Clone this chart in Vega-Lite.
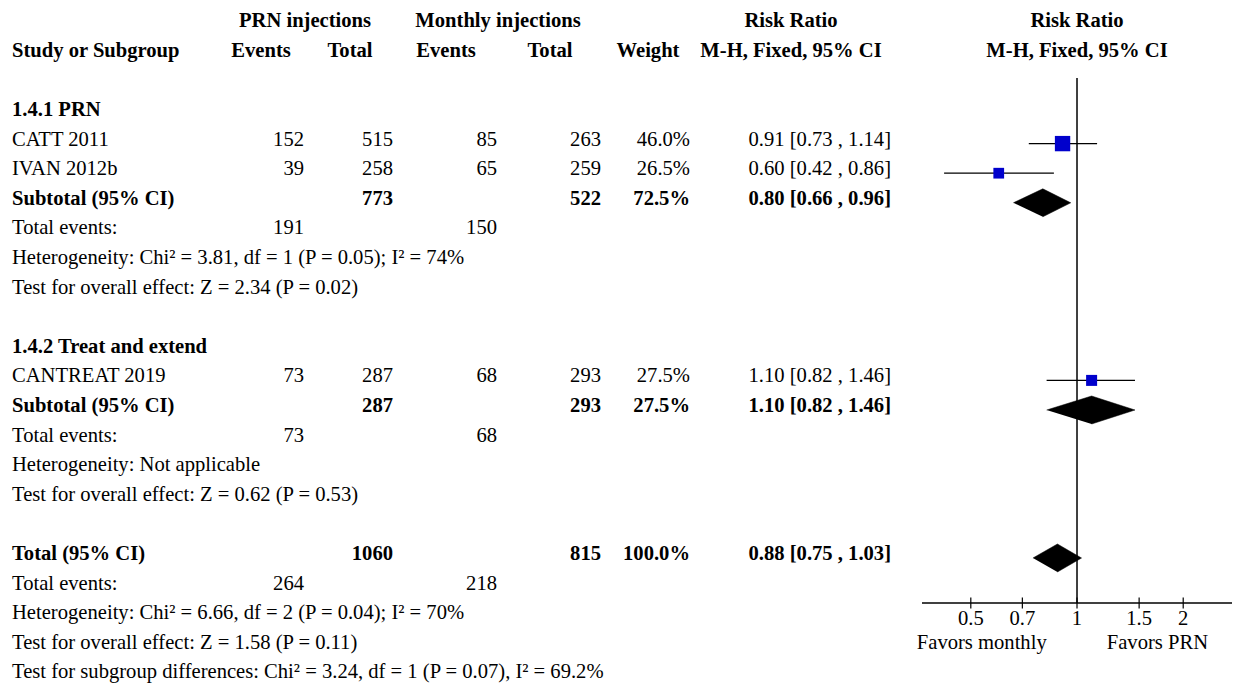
{
  "$schema": "https://vega.github.io/schema/vega-lite/v6.json",
  "width": 1259,
  "height": 684,
  "padding": 0,
  "autosize": "none",
  "background": "white",
  "config": {"view": {"stroke": null}, "font": "Liberation Serif", "text": {"font": "Liberation Serif", "fontSize": 20.6, "color": "#000"}},
  "datasets": {
    "cells": [
      {"row": -3, "col": 7, "text": "PRN injections", "kind": "head"},
      {"row": -3, "col": 10, "text": "Monthly injections", "kind": "head"},
      {"row": -3, "col": 14, "text": "Risk Ratio", "kind": "head"},
      {"row": -3, "col": 15, "text": "Risk Ratio", "kind": "head"},
      {"row": -2, "col": 0, "text": "Study or Subgroup", "kind": "head"},
      {"row": -2, "col": 8, "text": "Events", "kind": "head"},
      {"row": -2, "col": 9, "text": "Total", "kind": "head"},
      {"row": -2, "col": 11, "text": "Events", "kind": "head"},
      {"row": -2, "col": 12, "text": "Total", "kind": "head"},
      {"row": -2, "col": 13, "text": "Weight", "kind": "head"},
      {"row": -2, "col": 14, "text": "M-H, Fixed, 95% CI", "kind": "head"},
      {"row": -2, "col": 15, "text": "M-H, Fixed, 95% CI", "kind": "head"},
      {"row": 0, "col": 0, "text": "1.4.1 PRN", "kind": "group"},
      {"row": 1, "col": 0, "text": "CATT 2011", "kind": "study"},
      {"row": 1, "col": 1, "text": "152", "kind": "study"},
      {"row": 1, "col": 2, "text": "515", "kind": "study"},
      {"row": 1, "col": 3, "text": "85", "kind": "study"},
      {"row": 1, "col": 4, "text": "263", "kind": "study"},
      {"row": 1, "col": 5, "text": "46.0%", "kind": "study"},
      {"row": 1, "col": 6, "text": "0.91 [0.73 , 1.14]", "kind": "study"},
      {"row": 2, "col": 0, "text": "IVAN 2012b", "kind": "study"},
      {"row": 2, "col": 1, "text": "39", "kind": "study"},
      {"row": 2, "col": 2, "text": "258", "kind": "study"},
      {"row": 2, "col": 3, "text": "65", "kind": "study"},
      {"row": 2, "col": 4, "text": "259", "kind": "study"},
      {"row": 2, "col": 5, "text": "26.5%", "kind": "study"},
      {"row": 2, "col": 6, "text": "0.60 [0.42 , 0.86]", "kind": "study"},
      {"row": 3, "col": 0, "text": "Subtotal (95% CI)", "kind": "sub"},
      {"row": 3, "col": 2, "text": "773", "kind": "sub"},
      {"row": 3, "col": 4, "text": "522", "kind": "sub"},
      {"row": 3, "col": 5, "text": "72.5%", "kind": "sub"},
      {"row": 3, "col": 6, "text": "0.80 [0.66 , 0.96]", "kind": "sub"},
      {"row": 4, "col": 0, "text": "Total events:", "kind": "note"},
      {"row": 4, "col": 1, "text": "191", "kind": "note"},
      {"row": 4, "col": 3, "text": "150", "kind": "note"},
      {"row": 5, "col": 0, "text": "Heterogeneity: Chi² = 3.81, df = 1 (P = 0.05); I² = 74%", "kind": "note"},
      {"row": 6, "col": 0, "text": "Test for overall effect: Z = 2.34 (P = 0.02)", "kind": "note"},
      {"row": 8, "col": 0, "text": "1.4.2 Treat and extend", "kind": "group"},
      {"row": 9, "col": 0, "text": "CANTREAT 2019", "kind": "study"},
      {"row": 9, "col": 1, "text": "73", "kind": "study"},
      {"row": 9, "col": 2, "text": "287", "kind": "study"},
      {"row": 9, "col": 3, "text": "68", "kind": "study"},
      {"row": 9, "col": 4, "text": "293", "kind": "study"},
      {"row": 9, "col": 5, "text": "27.5%", "kind": "study"},
      {"row": 9, "col": 6, "text": "1.10 [0.82 , 1.46]", "kind": "study"},
      {"row": 10, "col": 0, "text": "Subtotal (95% CI)", "kind": "sub"},
      {"row": 10, "col": 2, "text": "287", "kind": "sub"},
      {"row": 10, "col": 4, "text": "293", "kind": "sub"},
      {"row": 10, "col": 5, "text": "27.5%", "kind": "sub"},
      {"row": 10, "col": 6, "text": "1.10 [0.82 , 1.46]", "kind": "sub"},
      {"row": 11, "col": 0, "text": "Total events:", "kind": "note"},
      {"row": 11, "col": 1, "text": "73", "kind": "note"},
      {"row": 11, "col": 3, "text": "68", "kind": "note"},
      {"row": 12, "col": 0, "text": "Heterogeneity: Not applicable", "kind": "note"},
      {"row": 13, "col": 0, "text": "Test for overall effect: Z = 0.62 (P = 0.53)", "kind": "note"},
      {"row": 15, "col": 0, "text": "Total (95% CI)", "kind": "sub"},
      {"row": 15, "col": 2, "text": "1060", "kind": "sub"},
      {"row": 15, "col": 4, "text": "815", "kind": "sub"},
      {"row": 15, "col": 5, "text": "100.0%", "kind": "sub"},
      {"row": 15, "col": 6, "text": "0.88 [0.75 , 1.03]", "kind": "sub"},
      {"row": 16, "col": 0, "text": "Total events:", "kind": "note"},
      {"row": 16, "col": 1, "text": "264", "kind": "note"},
      {"row": 16, "col": 3, "text": "218", "kind": "note"},
      {"row": 17, "col": 0, "text": "Heterogeneity: Chi² = 6.66, df = 2 (P = 0.04); I² = 70%", "kind": "note"},
      {"row": 18, "col": 0, "text": "Test for overall effect: Z = 1.58 (P = 0.11)", "kind": "note"},
      {"row": 19, "col": 0, "text": "Test for subgroup differences: Chi² = 3.24, df = 1 (P = 0.07), I² = 69.2%", "kind": "note"}
    ],
    "studies": [
      {"row": 1, "study": "CATT 2011", "est": 0.91, "lo": 0.73, "hi": 1.14, "weight": 46.0},
      {"row": 2, "study": "IVAN 2012b", "est": 0.60, "lo": 0.42, "hi": 0.86, "weight": 26.5},
      {"row": 9, "study": "CANTREAT 2019", "est": 1.10, "lo": 0.82, "hi": 1.46, "weight": 27.5}
    ],
    "diamonds": [
      {"grp": "Subtotal 1.4.1", "row": 3, "k": 0, "x": 0.66, "dy": 0},
      {"grp": "Subtotal 1.4.1", "row": 3, "k": 1, "x": 0.80, "dy": -1},
      {"grp": "Subtotal 1.4.1", "row": 3, "k": 2, "x": 0.96, "dy": 0},
      {"grp": "Subtotal 1.4.1", "row": 3, "k": 3, "x": 0.80, "dy": 1},
      {"grp": "Subtotal 1.4.2", "row": 10, "k": 0, "x": 0.82, "dy": 0},
      {"grp": "Subtotal 1.4.2", "row": 10, "k": 1, "x": 1.10, "dy": -1},
      {"grp": "Subtotal 1.4.2", "row": 10, "k": 2, "x": 1.46, "dy": 0},
      {"grp": "Subtotal 1.4.2", "row": 10, "k": 3, "x": 1.10, "dy": 1},
      {"grp": "Total", "row": 15, "k": 0, "x": 0.75, "dy": 0},
      {"grp": "Total", "row": 15, "k": 1, "x": 0.88, "dy": -1},
      {"grp": "Total", "row": 15, "k": 2, "x": 1.03, "dy": 0},
      {"grp": "Total", "row": 15, "k": 3, "x": 0.88, "dy": 1}
    ],
    "ticks": [
      {"t": 0.5, "label": "0.5"},
      {"t": 0.7, "label": "0.7"},
      {"t": 1, "label": "1"},
      {"t": 1.5, "label": "1.5"},
      {"t": 2, "label": "2"}
    ],
    "favors": [
      {"x": 0.537, "label": "Favors monthly"},
      {"x": 1.69, "label": "Favors PRN"}
    ]
  },
  "encoding": {
    "y": {"field": "row", "type": "ordinal", "axis": null,
      "scale": {"type": "point", "domain": [-3,-2,-1,0,1,2,3,4,5,6,7,8,9,10,11,12,13,14,15,16,17,18,19], "range": [21.2, 672.4], "padding": 0}}
  },
  "resolve": {"scale": {"x": "independent"}},
  "layer": [
    {
      "data": {"name": "cells"},
      "encoding": {
        "x": {"field": "col", "type": "quantitative", "axis": null,
          "scale": {"domain": [0,1,2,3,4,5,6,7,8,9,10,11,12,13,14,15,16], "range": [12,304,393,497,601,690,891,305,261,350,498,446,550,648,791,1077,1259], "zero": false, "nice": false}},
        "text": {"field": "text", "type": "nominal"}
      },
      "layer": [
        {"transform": [{"filter": "datum.col == 0 && indexof(['head','group','sub'], datum.kind) < 0"}],
         "mark": {"type": "text", "align": "left", "fontWeight": "normal"}},
        {"transform": [{"filter": "datum.col == 0 && indexof(['head','group','sub'], datum.kind) >= 0"}],
         "mark": {"type": "text", "align": "left", "fontWeight": "bold"}},
        {"transform": [{"filter": "datum.col >= 1 && datum.col <= 6 && indexof(['head','group','sub'], datum.kind) < 0"}],
         "mark": {"type": "text", "align": "right", "fontWeight": "normal"}},
        {"transform": [{"filter": "datum.col >= 1 && datum.col <= 6 && indexof(['head','group','sub'], datum.kind) >= 0"}],
         "mark": {"type": "text", "align": "right", "fontWeight": "bold"}},
        {"transform": [{"filter": "datum.col >= 7"}],
         "mark": {"type": "text", "align": "center", "fontWeight": "bold"}},
        {"data": {"values": [{}]},
         "mark": {"type": "rule", "color": "#000", "strokeWidth": 1.6, "yOffset": -2.4, "y2Offset": -2.4, "xOffset": -2},
         "encoding": {
           "x": {"datum": 0, "type": "quantitative"},
           "x2": {"datum": 16},
           "y": {"datum": -1, "type": "ordinal"},
           "text": null
         }}
      ]
    },
    {
      "encoding": {
        "x": {"type": "quantitative", "axis": null,
          "scale": {"type": "log", "domain": [0.3636, 2.75], "range": [922, 1232], "nice": false}}
      },
      "layer": [
        {"data": {"values": [{}]},
         "mark": {"type": "rule", "color": "#000", "strokeWidth": 1.5, "yOffset": -2.4, "y2Offset": 19.4},
         "encoding": {"x": {"datum": 1, "type": "quantitative"}, "y": {"datum": -1, "type": "ordinal"}, "y2": {"datum": 16}}},
        {"data": {"values": [{}]},
         "mark": {"type": "rule", "color": "#000", "strokeWidth": 1.5, "yOffset": 19.4},
         "encoding": {"x": {"datum": 0.3636, "type": "quantitative"}, "x2": {"datum": 2.75}, "y": {"datum": 16, "type": "ordinal"}}},
        {"data": {"name": "ticks"},
         "mark": {"type": "rule", "color": "#000", "strokeWidth": 1.2, "yOffset": 13.8, "y2Offset": 24.8},
         "encoding": {"x": {"field": "t", "type": "quantitative"}, "y": {"datum": 16, "type": "ordinal"}, "y2": {"datum": 16}}},
        {"data": {"name": "ticks"},
         "mark": {"type": "text", "align": "center", "fontSize": 20.6, "yOffset": 6},
         "encoding": {"x": {"field": "t", "type": "quantitative"}, "y": {"datum": 17, "type": "ordinal"}, "text": {"field": "label"}}},
        {"data": {"name": "favors"},
         "mark": {"type": "text", "align": "center", "fontSize": 20.6},
         "encoding": {"x": {"field": "x", "type": "quantitative"}, "y": {"datum": 18, "type": "ordinal"}, "text": {"field": "label"}}},
        {"data": {"name": "studies"},
         "mark": {"type": "rule", "color": "#000", "strokeWidth": 1.3, "yOffset": 4, "y2Offset": 4},
         "encoding": {"x": {"field": "lo", "type": "quantitative"}, "x2": {"field": "hi"}}},
        {"data": {"name": "studies"},
         "mark": {"type": "point", "shape": "square", "filled": true, "color": "#0000cc", "opacity": 1, "yOffset": 4},
         "encoding": {"x": {"field": "est", "type": "quantitative"},
           "size": {"field": "weight", "type": "quantitative", "legend": null, "scale": {"domain": [26.5, 46], "range": [115, 236], "zero": false}}}},
        {"data": {"name": "diamonds"},
         "mark": {"type": "line", "fill": "#000", "stroke": "#000", "strokeWidth": 0.5, "filled": true},
         "encoding": {"x": {"field": "x", "type": "quantitative"},
           "yOffset": {"field": "dy", "type": "quantitative", "scale": {"domain": [-1, 1], "range": [-10, 18], "zero": false, "nice": false}},
           "order": {"field": "k", "type": "quantitative"},
           "detail": {"field": "grp", "type": "nominal"}}}
      ]
    }
  ]
}
